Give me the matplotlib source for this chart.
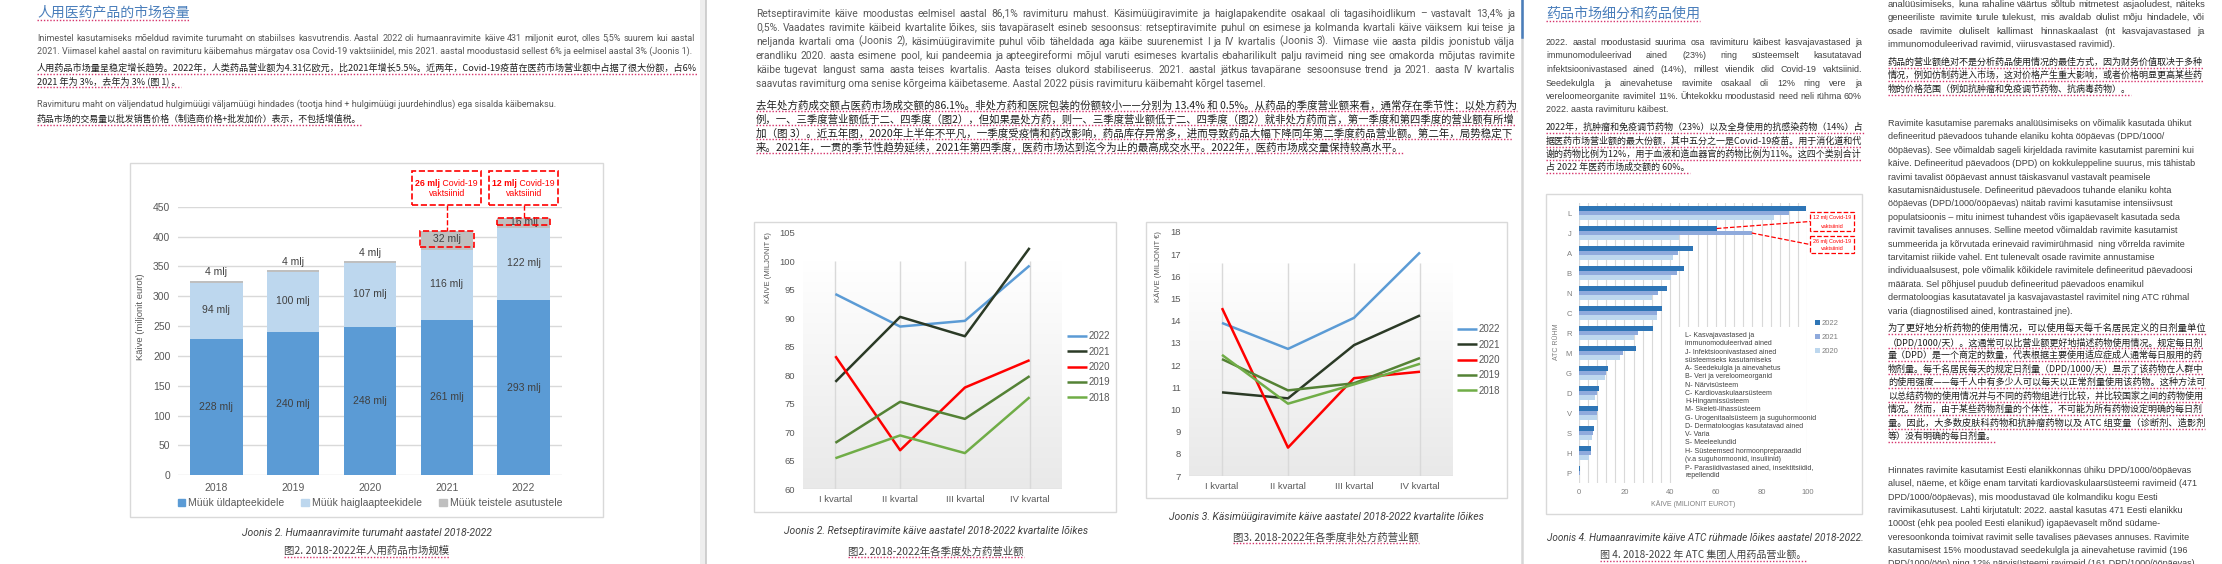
import matplotlib
matplotlib.use('Agg')
import matplotlib.pyplot as plt
from matplotlib import font_manager as fm
from matplotlib.lines import Line2D
from matplotlib.patches import Rectangle, Patch
from matplotlib.colors import LinearSegmentedColormap
import numpy as np

# ---------------- data ----------------
years = ['2018', '2019', '2020', '2021', '2022']
sales_general = [228, 240, 248, 261, 293]
sales_hospital = [94, 100, 107, 116, 122]
sales_other = [4, 4, 4, 32, 16]
covid_vacc = [0, 0, 0, 26, 12]

quarters = ['I kvartal', 'II kvartal', 'III kvartal', 'IV kvartal']
series_years = ['2022', '2021', '2020', '2019', '2018']
rx_2022 = [94.2, 88.5, 89.5, 99.2]
rx_2021 = [78.8, 90.2, 86.8, 102.3]
rx_2020 = [83.3, 66.8, 77.8, 82.6]
rx_2019 = [68.1, 75.3, 72.3, 79.8]
rx_2018 = [65.4, 69.4, 66.3, 76.1]

otc_2022 = [13.9, 12.73, 14.13, 17.08]
otc_2021 = [10.77, 10.5, 12.9, 14.24]
otc_2020 = [14.57, 8.28, 11.41, 11.7]
otc_2019 = [12.27, 10.86, 11.18, 12.32]
otc_2018 = [12.46, 10.26, 11.13, 12.06]

atc_groups = ['L', 'J', 'A', 'B', 'N', 'C', 'R', 'M', 'G', 'D', 'V', 'S', 'H', 'P']
atc_2022 = [99.3, 60.4, 49.9, 45.9, 38.6, 36.4, 32.5, 24.9, 13.0, 8.9, 8.4, 6.7, 5.5, 0.7]
atc_2021 = [92.1, 75.7, 43.6, 42.9, 34.6, 34.4, 26.1, 19.2, 12.1, 7.9, 8.0, 6.3, 5.2, 0.4]
atc_2020 = [85.3, 43.7, 41.1, 40.2, 32.1, 34.1, 24.0, 18.1, 11.7, 7.1, 7.9, 5.9, 4.7, 0.3]
atc_years = ['2022', '2021', '2020']
atc_vacc_labels = ['12 mlj Covid-19', '26 mlj Covid-19']
atc_legend_text = ['L- Kasvajavastased ja', 'immunomoduleerivad ained', 'J- Infektsioonivastased ained',
                   'süsteemseks kasutamiseks', 'A- Seedekulgla ja ainevahetus', 'B- Veri ja vereloomeorganid',
                   'N- Närvisüsteem', 'C- Kardiovaskulaarsüsteem', 'H-Hingamissüsteem', 'M- Skeleti-lihassüsteem',
                   'G- Urogenitaalsüsteem ja suguhormoonid', 'D- Dermatoloogias kasutatavad ained', 'V- Varia',
                   'S- Meeleelundid', 'H- Süsteemsed hormoonpreparaadid', '(v.a suguhormoonid, insuliinid)',
                   'P- Parasiidivastased ained, insektitsiidid,', 'repellendid']

# ---------------- text ----------------
p1_title = '人用医药产品的市场容量'
p1_et1 = ['Inimestel kasutamiseks mõeldud ravimite turumaht on stabiilses kasvutrendis. Aastal 2022 oli humaanravimite käive 431 miljonit eurot, olles 5,5% suurem kui aastal',
          '2021. Viimasel kahel aastal on ravimituru käibemahus märgatav osa Covid-19 vaktsiinidel, mis 2021. aastal moodustasid sellest 6% ja eelmisel aastal 3% (Joonis 1).']
p1_zh1 = ['人用药品市场量呈稳定增长趋势。2022年，人类药品营业额为4.31亿欧元，比2021年增长5.5%。近两年，Covid-19疫苗在医药市场营业额中占据了很大份额，占6%',
          '2021 年为 3%，去年为 3% (图 1) 。']
p1_et2 = ['Ravimituru maht on väljendatud hulgimüügi väljamüügi hindades (tootja hind + hulgimüügi juurdehindlus) ega sisalda käibemaksu.']
p1_zh2 = ['药品市场的交易量以批发销售价格（制造商价格+批发加价）表示，不包括增值税。']

p2_et = ['Retseptiravimite käive moodustas eelmisel aastal 86,1% ravimituru mahust. Käsimüügiravimite ja haiglapakendite osakaal oli tagasihoidlikum – vastavalt 13,4% ja',
         '0,5%. Vaadates ravimite käibeid kvartalite lõikes, siis tavapäraselt esineb sesoonsus: retseptiravimite puhul on esimese ja kolmanda kvartali käive väiksem kui teise ja',
         'neljanda kvartali oma (Joonis 2), käsimüügiravimite puhul võib täheldada aga käibe suurenemist I ja IV kvartalis (Joonis 3). Viimase viie aasta pildis joonistub välja',
         'erandliku 2020. aasta esimene pool, kui pandeemia ja apteegireformi mõjul varuti esimeses kvartalis ebaharilikult palju ravimeid ning see omakorda mõjutas ravimite',
         'käibe tugevat langust sama aasta teises kvartalis. Aasta teises olukord stabiliseerus. 2021. aastal jätkus tavapärane sesoonsuse trend ja 2021. aasta IV kvartalis',
         'saavutas ravimiturg oma senise kõrgeima käibetaseme. Aastal 2022 püsis ravimituru käibemaht kõrgel tasemel.']
p2_zh = ['去年处方药成交额占医药市场成交额的86.1%。非处方药和医院包装的份额较小——分别为 13.4% 和 0.5%。从药品的季度营业额来看，通常存在季节性：以处方药为',
         '例，一、三季度营业额低于二、四季度（图2），但如果是处方药，则一、三季度营业额低于二、四季度（图2）就非处方药而言，第一季度和第四季度的营业额有所增',
         '加（图 3）。近五年图，2020年上半年不平凡，一季度受疫情和药改影响，药品库存异常多，进而导致药品大幅下降同年第二季度药品营业额。第二年，局势稳定下',
         '来。2021年，一贯的季节性趋势延续，2021年第四季度，医药市场达到迄今为止的最高成交水平。2022年，医药市场成交量保持较高水平。']

p3_title = '药品市场细分和药品使用'
p3_et_left = ['2022. aastal moodustasid suurima osa ravimituru käibest kasvajavastased ja',
              'immunomoduleerivad ained (23%) ning süsteemselt kasutatavad',
              'infektsioonivastased ained (14%), millest viiendik olid Covid-19 vaktsiinid.',
              'Seedekulgla ja ainevahetuse ravimite osakaal oli 12% ning vere ja',
              'vereloomeorganite ravimitel 11%. Ühtekokku moodustasid need neli rühma 60%',
              '2022. aasta ravimituru käibest.']
p3_zh_left = ['2022年，抗肿瘤和免疫调节药物（23%）以及全身使用的抗感染药物（14%）占',
              '据医药市场营业额的最大份额，其中五分之一是Covid-19疫苗。用于消化道和代',
              '谢的药物比例为12%，用于血液和造血器官的药物比例为11%。这四个类别合计',
              '占 2022 年医药市场成交额的 60%。']
p3_et_r0 = ['analüüsimiseks, kuna rahaline väärtus sõltub mitmetest asjaoludest, näiteks',
            'geneeriliste ravimite turule tulekust, mis avaldab olulist mõju hindadele, või',
            'osade ravimite oluliselt kallimast hinnaskaalast (nt kasvajavastased ja',
            'immunomoduleerivad ravimid, viirusvastased ravimid).']
p3_zh_r0 = ['药品的营业额绝对不是分析药品使用情况的最佳方式，因为财务价值取决于多种',
            '情况，例如仿制药进入市场，这对价格产生重大影响，或者价格明显更高某些药',
            '物的价格范围（例如抗肿瘤和免疫调节药物、抗病毒药物）。']
p3_et_r1 = ['Ravimite kasutamise paremaks analüüsimiseks on võimalik kasutada ühikut',
            'defineeritud päevadoos tuhande elaniku kohta ööpäevas (DPD/1000/',
            'ööpäevas). See võimaldab sageli kirjeldada ravimite kasutamist paremini kui',
            'käive. Defineeritud päevadoos (DPD) on kokkuleppeline suurus, mis tähistab',
            'ravimi tavalist ööpäevast annust täiskasvanul vastavalt peamisele',
            'kasutamisnäidustusele. Defineeritud päevadoos tuhande elaniku kohta',
            'ööpäevas (DPD/1000/ööpäevas) näitab ravimi kasutamise intensiivsust',
            'populatsioonis – mitu inimest tuhandest võis igapäevaselt kasutada seda',
            'ravimit tavalises annuses. Selline meetod võimaldab ravimite kasutamist',
            'summeerida ja kõrvutada erinevaid ravimirühmasid  ning võrrelda ravimite',
            'tarvitamist riikide vahel. Ent tulenevalt osade ravimite annustamise',
            'individuaalsusest, pole võimalik kõikidele ravimitele defineeritud päevadoosi',
            'määrata. Sel põhjusel puudub defineeritud päevadoos enamikul',
            'dermatoloogias kasutatavatel ja kasvajavastastel ravimitel ning ATC rühmal',
            'varia (diagnostilised ained, kontrastained jne).']
p3_zh_r1 = ['为了更好地分析药物的使用情况，可以使用每天每千名居民定义的日剂量单位',
            '（DPD/1000/天）。这通常可以比营业额更好地描述药物使用情况。规定每日剂',
            '量（DPD）是一个商定的数量，代表根据主要使用适应症成人通常每日服用的药',
            '物剂量。每千名居民每天的规定日剂量（DPD/1000/天）显示了该药物在人群中',
            '的使用强度——每千人中有多少人可以每天以正常剂量使用该药物。这种方法可',
            '以总结药物的使用情况并与不同的药物组进行比较，并比较国家之间的药物使用',
            '情况。然而，由于某些药物剂量的个体性，不可能为所有药物设定明确的每日剂',
            '量。因此，大多数皮肤科药物和抗肿瘤药物以及 ATC 组变量（诊断剂、造影剂',
            '等）没有明确的每日剂量。']
p3_et_r2 = ['Hinnates ravimite kasutamist Eesti elanikkonnas ühiku DPD/1000/ööpäevas',
            'alusel, näeme, et kõige enam tarvitati kardiovaskulaarsüsteemi ravimeid (471',
            'DPD/1000/ööpäevas), mis moodustavad üle kolmandiku kogu Eesti',
            'ravimikasutusest. Lahti kirjutatult: 2022. aastal kasutas 471 Eesti elanikku',
            '1000st (ehk pea pooled Eesti elanikud) igapäevaselt mõnd südame-',
            'veresoonkonda toimivat ravimit selle tavalises päevases annuses. Ravimite',
            'kasutamisest 15% moodustavad seedekulgla ja ainevahetuse ravimid (196',
            'DPD/1000/ööp) ning 12% närvisüsteemi ravimeid (161 DPD/1000/ööpäevas)']

cap1 = ['Joonis 2. Humaanravimite turumaht aastatel 2018-2022', '图2. 2018-2022年人用药品市场规模']
cap2 = ['Joonis 2. Retseptiravimite käive aastatel 2018-2022 kvartalite lõikes', '图2. 2018-2022年各季度处方药营业额']
cap3 = ['Joonis 3. Käsimüügiravimite käive aastatel 2018-2022 kvartalite lõikes', '图3. 2018-2022年各季度非处方药营业额']
cap4 = ['Joonis 4. Humaanravimite käive ATC rühmade lõikes aastatel 2018-2022.', '图 4. 2018-2022 年 ATC 集团人用药品营业额。']

# ---------------- setup ----------------
W, H = 2222, 564
avail = {f.name for f in fm.fontManager.ttflist}
LAT = 'Roboto' if 'Roboto' in avail else 'DejaVu Sans'
NAR = 'Liberation Sans Narrow' if 'Liberation Sans Narrow' in avail else ('Liberation Sans' if 'Liberation Sans' in avail else LAT)
CJK = 'Noto Sans CJK SC'
F_LAT = [LAT, CJK]
F_NAR = [NAR, CJK]
F_CJK = [CJK, 'DejaVu Sans']

fig = plt.figure(figsize=(W / 100, H / 100), dpi=100)
fig.patch.set_facecolor('white')
R = fig.canvas.get_renderer()

GRAY_T = '#595959'
DARK_T = '#404040'
ZH_T = '#1E1E1E'
BLUE_T = '#4A7EBB'
UL = '#D6336C'


def fx(x):
    return x / W


def fy(y):
    return 1 - y / H


def wext(t):
    return t.get_window_extent(renderer=R)


def fit_size(s, width, fam, **kw):
    t = fig.text(0, 0, s, fontsize=10, family=fam, **kw)
    w = wext(t).width
    t.remove()
    return 10.0 * width / w


def underline(t):
    bb = wext(t)
    yy = bb.y0 - 0.5
    fig.add_artist(Line2D([bb.x0 / W, bb.x1 / W], [yy / H, yy / H], color=UL, lw=1.0,
                          ls=(0, (1, 1.3)), transform=fig.transFigure))


def put(x, y, s, size, color, fam, ha='left', ul=False, **kw):
    yb = y + 0.34 * size * 100 / 72
    t = fig.text(fx(x), fy(yb), s, fontsize=size, color=color, family=fam, ha=ha, va='baseline', **kw)
    if ul:
        underline(t)
    return t


def put_c(x, y, s, size, color, fam, ha='center', **kw):
    return fig.text(fx(x), fy(y), s, fontsize=size, color=color, family=fam, ha=ha, va='center', **kw)


def justify_line(x0, x1, y, s, size, color, fam):
    words = [w for w in s.split(' ') if w != '']
    ts = [put(x0, y, w, size, color, fam) for w in words]
    ws = [wext(t).width for t in ts]
    if len(ts) < 2:
        return
    gap = (x1 - x0 - sum(ws)) / (len(ts) - 1)
    x = x0
    for t, w in zip(ts, ws):
        t.set_x(fx(x))
        x += w + gap


def para_et(lines, x0, x1, ys, fam, color, justify=True, size=None, ref=None):
    full = lines[:-1] if len(lines) > 1 else lines
    if size is None:
        if ref is not None:
            size = fit_size(ref[0], ref[1], fam)
        else:
            size = min(fit_size(l, x1 - x0, fam) for l in full)
    for i, (s, y) in enumerate(zip(lines, ys)):
        if justify and i < len(lines) - 1:
            justify_line(x0, x1, y, s, size, color, fam)
        else:
            put(x0, y, s, size, color, fam)
    return size


def para_zh(lines, x0, x1, ys, fam, color, last_full=False, ul=True):
    full = lines if last_full else lines[:-1]
    sizes = [fit_size(l, x1 - x0, fam) for l in full]
    base = float(np.median(sizes))
    for i, (s, y) in enumerate(zip(lines, ys)):
        if i < len(full):
            sz = min(max(sizes[i], 0.93 * base), 1.07 * base)
        else:
            sz = base
        put(x0, y, s, sz, color, fam, ul=ul)
    return base


def add_ax(x0, y0, x1, y1):
    a = fig.add_axes([x0 / W, 1 - y1 / H, (x1 - x0) / W, (y1 - y0) / H])
    a.set_facecolor('none')
    return a


def frame(x0, y0, x1, y1, ec='#D9D9D9', lw=1.0):
    fig.add_artist(Rectangle((x0 / W, 1 - y1 / H), (x1 - x0) / W, (y1 - y0) / H, transform=fig.transFigure,
                             fill=False, ec=ec, lw=lw, zorder=-1))


# ---------------- page separators ----------------
fig.add_artist(Rectangle((700 / W, 0), 6 / W, 1, transform=fig.transFigure, fc='#EEEEEE', ec='none', zorder=-2))
fig.add_artist(Line2D([705.5 / W, 705.5 / W], [0, 1], color='#C8C8C8', lw=1.2, transform=fig.transFigure))
fig.add_artist(Line2D([1521.5 / W, 1521.5 / W], [0, 1], color='#D6D6D6', lw=1.8, transform=fig.transFigure))
fig.add_artist(Line2D([1521.5 / W, 1521.5 / W], [fy(37), 1], color='#4A7EBB', lw=1.8, transform=fig.transFigure))

# ---------------- panel 1 text ----------------
ts = fit_size(p1_title, 153, F_CJK)
put(37, 12, p1_title, ts, BLUE_T, F_CJK, ul=True)
s_et1 = para_et(p1_et1, 37, 695, [38, 51], F_LAT, GRAY_T)
para_zh(p1_zh1, 37, 696, [68, 81], F_CJK, ZH_T)
put(37, 104, p1_et2[0], s_et1, GRAY_T, F_LAT)
put(37, 119, p1_zh2[0], fit_size(p1_zh2[0], 326, F_CJK), ZH_T, F_CJK, ul=True)

# ---------------- panel 1 chart ----------------
frame(130, 163, 603, 517)
ax1 = add_ax(178, 206.7, 562, 475.3)
xi = np.arange(len(years))
bw = 0.68
C_DARK, C_LIGHT, C_GRAY = '#5B9BD5', '#BDD7EE', '#BFBFBF'
ax1.bar(xi, sales_general, bw, color=C_DARK, zorder=3)
ax1.bar(xi, sales_hospital, bw, bottom=sales_general, color=C_LIGHT, zorder=3)
bottom2 = np.add(sales_general, sales_hospital)
ax1.bar(xi, sales_other, bw, bottom=bottom2, color=C_GRAY, zorder=3)
ax1.set_xlim(-0.5, 4.5)
ax1.set_ylim(0, 450)
ax1.set_yticks(range(0, 451, 50))
ax1.set_xticks(xi)
ax1.set_xticklabels(years)
ax1.grid(axis='y', color='#D9D9D9', lw=1.0, zorder=0)
ax1.set_axisbelow(True)
for sp in ax1.spines.values():
    sp.set_visible(False)
ax1.tick_params(length=0, labelsize=7.5, labelcolor=GRAY_T)
ax1.tick_params(axis='y', pad=5.5)
ax1.tick_params(axis='x', pad=5.5)
for lab in ax1.get_xticklabels() + ax1.get_yticklabels():
    lab.set_family(F_NAR)
ax1.set_ylabel('Käive (miljonit eurot)', fontsize=6.8, color=GRAY_T, family=F_NAR)
ax1.yaxis.set_label_coords(-0.086, 0.589)
LBL = '#404040'
for i in range(len(years)):
    g, hsp, o, c = sales_general[i], sales_hospital[i], sales_other[i], covid_vacc[i]
    tot = g + hsp + o
    ax1.text(i, g / 2, f'{g} mlj', ha='center', va='center', fontsize=7.5, color=LBL, family=F_NAR, zorder=5)
    ax1.text(i, g + hsp / 2 + 2, f'{hsp} mlj', ha='center', va='center', fontsize=7.5, color=LBL, family=F_NAR, zorder=5)
    if c == 0:
        ax1.text(i, tot + 14, f'{o} mlj', ha='center', va='center', fontsize=7.5, color=LBL, family=F_NAR, zorder=5)
    else:
        ax1.text(i, tot - c / 2, f'{o} mlj', ha='center', va='center', fontsize=7.5, color=LBL, family=F_NAR, zorder=6)
        ax1.add_patch(Rectangle((i - bw / 2 - 0.01, tot - c), bw + 0.02, c, fill=False, ec='#FF0000', ls='--',
                                lw=1.2, zorder=6, clip_on=False))
        ax1.add_patch(Rectangle((i - 0.45, 452.7), 0.9, 57.5, fill=False, ec='#FF0000', ls='--', lw=1.2,
                                zorder=6, clip_on=False))
        ax1.plot([i, i], [452.7, tot], color='#FF0000', ls='--', lw=1.0, clip_on=False, zorder=6)
        xpx = ax1.transData.transform((i, 0))[0]
        t1 = put_c(0, 183, f'{c} mlj', 6.3, '#FF0000', F_NAR, ha='left', weight='bold')
        t2 = put_c(0, 183, ' Covid-19', 6.3, '#FF0000', F_NAR, ha='left')
        w1, w2 = wext(t1).width, wext(t2).width
        x0 = xpx - (w1 + w2) / 2
        t1.set_x(fx(x0))
        t2.set_x(fx(x0 + w1))
        put_c(xpx, 194, 'vaktsiinid', 6.3, '#FF0000', F_NAR)
leg1 = ax1.legend(handles=[Patch(color=C_DARK), Patch(color=C_LIGHT), Patch(color=C_GRAY)],
                  labels=['Müük üldapteekidele', 'Müük haiglaapteekidele', 'Müük teistele asutustele'],
                  loc='center', bbox_to_anchor=(0.5, -0.103), ncol=3, frameon=False,
                  handlelength=0.75, handleheight=0.75, handletextpad=0.3, columnspacing=1.6,
                  borderpad=0, borderaxespad=0, labelcolor=GRAY_T, prop={'family': F_NAR, 'size': 7.5})
put_c(367, 533, cap1[0], 7.5, DARK_T, F_LAT, style='italic')
t = put_c(367, 551, cap1[1], 7.5, DARK_T, F_CJK, style='italic')
underline(t)

# ---------------- panel 2 text ----------------
para_et(p2_et, 756, 1515, [13, 27, 41, 55, 69, 83], F_LAT, GRAY_T)
para_zh(p2_zh, 756, 1515, [105, 119, 133, 147], F_CJK, ZH_T)

# ---------------- line charts ----------------
grad_cmap = LinearSegmentedColormap.from_list('g', ['#E9E9E9', '#FFFFFF'])
LINE_COLORS = ['#5B9BD5', '#2B3A26', '#FF0000', '#548235', '#70AD47']


def line_chart(box, axr, ylim, ygrad_top, yticks, series, legpos, ylab_pos):
    frame(*box)
    ax = add_ax(*axr)
    xq = np.arange(len(quarters))
    grad = np.linspace(1, 0, 256).reshape(-1, 1)
    ax.imshow(grad, extent=(-0.5, 3.5, ylim[0], ygrad_top), aspect='auto', cmap=grad_cmap, vmin=0, vmax=1,
              zorder=0, interpolation='bilinear')
    ax.vlines(xq, ylim[0], ygrad_top, color='#D9D9D9', lw=1.0, zorder=1)
    ax.axhline(ylim[0], color='#D9D9D9', lw=1.0, zorder=1)
    handles = []
    for vals, col in zip(series, LINE_COLORS):
        ln, = ax.plot(xq, vals, color=col, lw=1.8, zorder=3, solid_capstyle='butt')
        handles.append(ln)
    ax.set_xlim(-0.5, 3.5)
    ax.set_ylim(*ylim)
    ax.set_yticks(yticks)
    ax.set_xticks(xq)
    ax.set_xticklabels(quarters)
    for sp in ax.spines.values():
        sp.set_visible(False)
    ax.tick_params(length=0, labelsize=6.8, labelcolor=GRAY_T)
    ax.tick_params(axis='y', pad=6)
    ax.tick_params(axis='x', pad=4.5)
    for lab in ax.get_xticklabels() + ax.get_yticklabels():
        lab.set_family(F_NAR)
    ax.set_ylabel('KÄIVE (MILJONIT €)', fontsize=5.5, color=GRAY_T, family=F_NAR)
    ax.yaxis.set_label_coords(*ylab_pos)
    ax.legend(handles=handles, labels=series_years, loc='center left', bbox_to_anchor=legpos, frameon=False,
              handlelength=2.1, handletextpad=0.15, labelspacing=0.55, borderpad=0, borderaxespad=0,
              labelcolor=GRAY_T, prop={'family': F_NAR, 'size': 7})
    return ax


ax2 = line_chart((754, 222, 1116, 512), (803, 232.5, 1062, 489), (60, 105), 100, range(60, 106, 5),
                 [rx_2022, rx_2021, rx_2020, rx_2019, rx_2018],
                 ((1067 - 803) / 259, (489 - 367) / 256.5), ((772 - 803) / 259, (489 - 268) / 256.5))
ax3 = line_chart((1146, 222, 1507, 498), (1189, 232, 1453, 476), (7, 18), 16.6, range(7, 19, 1),
                 [otc_2022, otc_2021, otc_2020, otc_2019, otc_2018],
                 ((1457 - 1189) / 264, (476 - 360) / 244), ((1162 - 1189) / 264, (476 - 267) / 244))

put_c(936, 531, cap2[0], 7.5, DARK_T, F_LAT, style='italic')
underline(put_c(936, 551, cap2[1], 7.5, DARK_T, F_CJK, style='italic'))
put_c(1326, 517, cap3[0], 7.5, DARK_T, F_LAT, style='italic')
underline(put_c(1326, 537, cap3[1], 7.5, DARK_T, F_CJK, style='italic'))

# ---------------- panel 3 text ----------------
put(1546, 13, p3_title, fit_size(p3_title, 154, F_CJK), BLUE_T, F_CJK, ul=True)
para_et(p3_et_left, 1546, 1862, [42, 55, 69, 83, 96, 109], F_NAR, DARK_T)
para_zh(p3_zh_left, 1546, 1862, [127, 141, 154, 167], F_CJK, ZH_T)
para_et(p3_et_r0, 1888, 2205, [4, 17, 31, 44], F_NAR, DARK_T)
para_zh(p3_zh_r0, 1888, 2205, [62, 75, 89], F_CJK, ZH_T)
s_r1 = para_et(p3_et_r1, 1888, 2205, [123 + 13.4 * k for k in range(15)], F_NAR, DARK_T, justify=False,
               ref=(p3_et_r1[0], 303))
para_zh(p3_zh_r1, 1888, 2205, [328, 342, 355, 368, 382, 396, 409, 423, 436], F_CJK, ZH_T)
para_et(p3_et_r2, 1888, 2205, [470 + 13.3 * k for k in range(8)], F_NAR, DARK_T, justify=False, size=s_r1)

# ---------------- ATC chart ----------------
frame(1546, 194, 1862, 514)
ax4 = add_ax(1578.7, 203, 1807.3, 483)
yg = np.arange(len(atc_groups))
bh = 0.225
C_A1, C_A2, C_A3 = '#2E75B6', '#8FAADC', '#BDD7EE'
b1 = ax4.barh(yg - bh, atc_2022, bh, color=C_A1, zorder=3)
b2 = ax4.barh(yg, atc_2021, bh, color=C_A2, zorder=3)
b3 = ax4.barh(yg + bh, atc_2020, bh, color=C_A3, zorder=3)
ax4.set_xlim(0, 100)
ax4.set_ylim(13.5, -0.5)
ax4.set_xticks(range(0, 101, 20))
ax4.set_xticks(range(0, 101, 4), minor=True)
ax4.set_yticks(yg)
ax4.set_yticklabels(atc_groups)
ax4.grid(axis='x', which='both', color='#D9D9D9', lw=0.8, zorder=0)
ax4.set_axisbelow(True)
for sp in ax4.spines.values():
    sp.set_visible(False)
ax4.axvline(0, color='#D9D9D9', lw=0.8, zorder=1)
ax4.tick_params(which='both', length=0, labelsize=5.5, labelcolor='#7F7F7F')
ax4.tick_params(axis='y', pad=5)
ax4.tick_params(axis='x', pad=4)
for lab in ax4.get_xticklabels() + ax4.get_yticklabels():
    lab.set_family(F_NAR)
ax4.set_xlabel('KÄIVE (MILIONIT EUROT)', fontsize=5, color='#7F7F7F', family=F_NAR, labelpad=3)
ax4.set_ylabel('ATC RÜHM', fontsize=5, color='#7F7F7F', family=F_NAR)
ax4.yaxis.set_label_coords((1560 - 1578.7) / 228.6, (483 - 342) / 280)


def ydat(ypx):
    return (ypx - 203) / 20.0 - 0.5


def xdat(xpx):
    return (xpx - 1578.7) / 2.286


ax4.add_patch(Rectangle((xdat(1673), ydat(327)), xdat(1806) - xdat(1673), ydat(482.5) - ydat(327),
                        fc='white', ec='none', zorder=1.5))
for k, s in enumerate(atc_legend_text):
    put_c(1685, 335.7 + 8.25 * k, s, 5.0, DARK_T, F_NAR, ha='left')
ax4.legend(handles=[b1, b2, b3], labels=atc_years, loc='upper left',
           bbox_to_anchor=(xdat(1815) / 100, 1 - (ydat(320) + 0.5) / 14), frameon=False,
           handlelength=0.6, handleheight=0.6, handletextpad=0.3, labelspacing=0.9, borderpad=0, borderaxespad=0,
           labelcolor='#7F7F7F', prop={'family': F_NAR, 'size': 5.5})
jx = atc_groups.index('J')
for k, (val, off, (ya, yb)) in enumerate([(atc_2022[jx], -bh, (212, 231)), (atc_2021[jx], 0.0, (236, 253))]):
    ax4.add_patch(Rectangle((xdat(1810), ydat(ya)), xdat(1854) - xdat(1810), ydat(yb) - ydat(ya), fill=False,
                            ec='#FF0000', ls='--', lw=0.9, zorder=6, clip_on=False))
    ax4.plot([val, xdat(1810)], [jx + off, ydat((ya + yb) / 2)], color='#FF0000', ls='--', lw=0.9,
             clip_on=False, zorder=6)
    put_c(1832, ya + 5.5, atc_vacc_labels[k], 4.0, '#FF0000', F_NAR)
    put_c(1832, yb - 5.0, 'vaktsiinid', 4.0, '#FF0000', F_NAR)

put_c(1705, 538, cap4[0], 7.2, DARK_T, F_LAT, style='italic')
underline(put_c(1703, 555, cap4[1], 7.2, DARK_T, F_CJK, style='italic'))

fig.savefig('out.png', dpi=100, facecolor='white')
